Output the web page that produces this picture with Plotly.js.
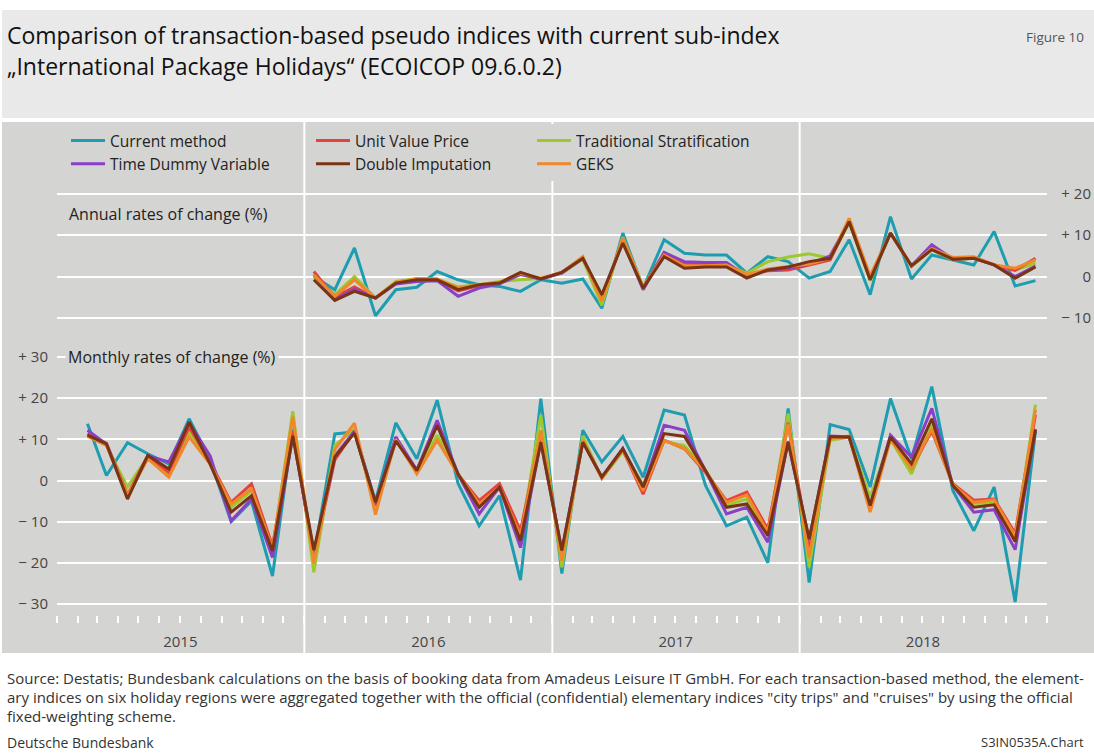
<!DOCTYPE html>
<html>
<head>
<meta charset="utf-8">
<script src="https://cdn.plot.ly/plotly-3.0.1.min.js"></script>
<style>html,body{margin:0;padding:0;background:#fff;}#chart{width:1094px;height:754px;}</style>
</head>
<body>
<div id="chart"></div>
<script>
// ---------- DATA ----------
const years = [2015, 2016, 2017, 2018];
const monthlyStart = [2015, 2]; // first monthly observation: Feb 2015
const annualStart = [2016, 1];  // first annual observation: Jan 2016

const seriesNames = ["Current method", "Unit Value Price", "Traditional Stratification",
                     "Time Dummy Variable", "Double Imputation", "GEKS"];

// Monthly rates of change (%), Feb 2015 - Dec 2018
const mCurrent = [13.8, 1.2, 9.2, 6.5, 4.0, 15.0, 5.0, -10.0, -5.0, -23.2, 12.5,
  -18.5, 11.3, 11.8, -5.0, 14.0, 5.3, 19.5, -0.8, -11.0, -3.7, -24.2, 19.9,
  -22.6, 12.2, 4.5, 10.7, 0.8, 17.1, 15.9, -1.2, -11.0, -8.9, -20.0, 17.5,
  -24.8, 13.6, 12.4, -1.6, 19.9, 5.3, 22.8, -2.4, -12.2, -1.6, -29.5, 12.0];
const mUnitValue = [11.4, 9.0, -3.5, 6.0, 2.0, 13.0, 4.5, -5.3, -0.8, -15.9, 12.0,
  -18.5, 5.0, 12.0, -6.0, 10.0, 2.5, 13.5, 1.5, -4.9, -0.8, -12.2, 11.5,
  -18.0, 9.5, 0.8, 7.5, -3.3, 9.8, 7.7, 2.0, -4.9, -2.8, -11.8, 14.0,
  -17.0, 10.5, 10.5, -6.5, 10.5, 3.0, 12.0, -0.8, -4.8, -4.5, -12.8, 16.0];
const mTradStrat = [11.0, 8.5, -1.6, 5.8, 1.5, 12.0, 4.5, -6.5, -2.5, -17.0, 16.8,
  -22.3, 8.5, 12.5, -6.5, 10.0, 2.0, 11.0, 1.5, -6.0, -1.8, -14.0, 15.9,
  -21.1, 10.8, 0.5, 7.0, -1.0, 9.5, 8.5, 2.4, -6.0, -4.5, -13.0, 16.3,
  -21.1, 9.8, 10.5, -4.0, 10.0, 1.6, 13.5, -1.0, -5.5, -5.5, -14.0, 18.4];
const mTimeDummy = [12.2, 8.8, -4.0, 6.0, 4.5, 14.0, 6.0, -9.8, -4.5, -18.7, 11.0,
  -17.5, 6.0, 12.0, -5.5, 10.6, 2.5, 14.6, 1.5, -8.1, -1.6, -16.3, 9.5,
  -17.0, 9.5, 0.8, 7.8, -1.6, 13.4, 12.2, 2.4, -8.1, -6.5, -15.0, 9.5,
  -14.5, 10.8, 10.6, -6.0, 11.0, 5.7, 17.5, -1.2, -7.7, -7.1, -16.8, 12.5];
const mDoubleImp = [11.0, 8.9, -4.5, 6.1, 2.8, 14.2, 4.0, -7.7, -3.7, -17.1, 10.8,
  -16.9, 5.7, 11.5, -5.3, 9.6, 2.4, 13.4, 1.5, -6.5, -1.6, -14.6, 9.3,
  -17.0, 9.3, 0.8, 7.7, -1.6, 11.4, 10.7, 2.4, -6.5, -5.7, -13.4, 9.3,
  -14.2, 10.6, 10.6, -6.1, 10.6, 4.1, 15.0, -1.2, -6.5, -5.9, -14.8, 12.3];
const mGEKS = [10.7, 8.5, -3.7, 5.3, 0.8, 10.6, 4.0, -5.7, -2.0, -16.5, 15.5,
  -20.1, 7.5, 13.9, -8.3, 10.0, 1.6, 9.8, 1.5, -5.7, -1.6, -13.5, 12.2,
  -19.5, 9.8, 0.5, 7.5, -2.5, 9.8, 7.7, 2.4, -5.3, -3.5, -12.5, 13.8,
  -18.7, 10.3, 10.8, -7.7, 10.0, 3.0, 12.5, -1.0, -5.3, -4.7, -13.5, 17.2];

// Annual rates of change (%), Jan 2016 - Dec 2018
const aCurrent = [0.0, -3.2, 6.9, -9.5, -3.2, -2.6, 1.2, -0.8, -2.0, -2.4, -3.6, -0.8,
  -1.6, -0.6, -7.7, 10.5, -2.8, 8.9, 5.6, 5.2, 5.2, 0.8, 4.8, 3.6,
  -0.4, 1.2, 8.9, -4.4, 14.5, -0.6, 5.2, 4.0, 2.8, 10.9, -2.3, -1.0];
const aUnitValue = [1.2, -5.0, -2.5, -5.2, -1.6, -1.0, -0.8, -3.5, -2.2, -1.6, 0.6, -0.6,
  1.0, 4.6, -5.5, 9.0, -2.8, 5.8, 3.2, 3.0, 3.0, 0.3, 1.4, 1.6,
  2.8, 4.0, 13.5, -0.5, 10.5, 2.6, 7.0, 4.2, 4.6, 2.8, 1.5, 4.4];
const aTradStrat = [0.0, -4.4, 0.0, -5.2, -1.2, -0.5, -0.6, -2.5, -2.0, -1.2, -0.8, -0.5,
  0.8, 4.2, -7.0, 9.5, -2.5, 5.4, 3.0, 2.8, 2.8, 0.8, 3.6, 4.7,
  5.5, 4.4, 13.0, -1.0, 10.5, 2.4, 6.5, 4.0, 4.4, 2.8, 1.5, 3.2];
const aTimeDummy = [0.5, -5.5, -3.1, -5.2, -1.8, -1.2, -1.0, -4.8, -2.8, -1.8, 0.5, -0.6,
  0.8, 4.4, -4.8, 8.5, -3.2, 5.8, 3.6, 3.4, 3.4, 0.0, 1.6, 2.0,
  3.0, 5.0, 13.3, -0.6, 10.5, 2.6, 7.7, 4.2, 4.4, 2.8, 0.0, 2.5];
const aDoubleImp = [-0.8, -5.8, -3.6, -5.2, -1.6, -0.8, -0.8, -3.2, -2.0, -1.6, 1.0, -0.6,
  1.0, 4.4, -4.4, 8.1, -2.8, 4.8, 2.0, 2.3, 2.3, -0.4, 1.6, 2.3,
  3.6, 4.4, 13.3, -0.8, 10.5, 2.6, 6.5, 4.2, 4.4, 2.8, -0.4, 2.3];
const aGEKS = [0.4, -4.8, -0.8, -5.2, -1.4, -0.6, -0.6, -2.8, -2.0, -1.4, 0.8, -0.4,
  1.0, 4.8, -6.0, 9.3, -2.8, 5.2, 2.6, 2.6, 2.8, 0.5, 1.8, 2.3,
  3.0, 4.4, 14.1, 0.2, 10.5, 2.6, 6.8, 4.6, 4.8, 2.8, 2.0, 4.0];

const monthlyTicks = [-30, -20, -10, 0, 10, 20, 30];
const monthlyTickText = ["\u2212 30", "\u2212 20", "\u2212 10", "0", "+ 10", "+ 20", "+ 30"];
const annualTicks = [-10, 0, 10, 20];
const annualTickText = ["\u2212 10", "0", "+ 10", "+ 20"];

// ---------- STYLE ----------
const colors = ["#1e9db1", "#e6413f", "#9cc92c", "#8a3fc8", "#7a3414", "#f0872a"];
const legendOf = ["legend", "legend2", "legend3", "legend", "legend2", "legend3"];
const drawOrder = [0, 2, 1, 3, 5, 4];
const FONT = "Open Sans, sans-serif";
const chartBg = "#d4d4d2";

const W = 1094, H = 754;
const px = v => v / W;
const py = v => 1 - v / H;

function monthDates(start, n) {
  const out = [];
  for (let i = 0; i < n; i++) {
    const t = (start[1] - 1) + i;
    const y = start[0] + Math.floor(t / 12);
    const m = (t % 12) + 1;
    out.push(y + "-" + String(m).padStart(2, "0") + "-15");
  }
  return out;
}

const monthlySeries = [mCurrent, mUnitValue, mTradStrat, mTimeDummy, mDoubleImp, mGEKS];
const annualSeries = [aCurrent, aUnitValue, aTradStrat, aTimeDummy, aDoubleImp, aGEKS];
const mx = monthDates(monthlyStart, mCurrent.length);
const ax = monthDates(annualStart, aCurrent.length);

const traces = [];
drawOrder.forEach(i => {
  traces.push({
    type: "scatter", mode: "lines", name: seriesNames[i],
    x: ax, y: annualSeries[i], xaxis: "x", yaxis: "y2",
    line: {color: colors[i], width: 3}, legend: legendOf[i], showlegend: true,
    hoverinfo: "skip"
  });
});
drawOrder.forEach(i => {
  traces.push({
    type: "scatter", mode: "lines", name: seriesNames[i],
    x: mx, y: monthlySeries[i], xaxis: "x", yaxis: "y",
    line: {color: colors[i], width: 3}, legend: legendOf[i], showlegend: false,
    hoverinfo: "skip"
  });
});

const xStart = years[0] + "-01-01";
const xEnd = (years[years.length - 1] + 1) + "-01-01";
const xDomain = [px(57), px(1047)];

const shapes = [
  {type: "rect", xref: "paper", yref: "paper", x0: px(2), x1: 1, y0: py(118), y1: py(10),
   fillcolor: "#e9e9e9", line: {width: 0}, layer: "below"},
  {type: "rect", xref: "paper", yref: "paper", x0: px(2), x1: 1, y0: py(653), y1: py(122),
   fillcolor: chartBg, line: {width: 0}, layer: "below"}
];
years.slice(1).forEach(y => {
  shapes.push({type: "line", xref: "x", yref: "paper", x0: y + "-01-01", x1: y + "-01-01",
    y0: py(653), y1: py(122), line: {color: "#ffffff", width: 2}, layer: "below"});
});

const ann = (text, x, y, opts) => Object.assign({
  text, x: px(x), y: py(y), xref: "paper", yref: "paper", showarrow: false,
  xanchor: "left", yanchor: "middle", font: {family: FONT, size: 13, color: "#222"}
}, opts || {});

const footFont = {family: FONT, size: 15, color: "#333"};
const annotations = [
  ann("Comparison of transaction-based pseudo indices with current sub-index", 5, 35,
      {font: {family: FONT, size: 23, color: "#111"}}),
  ann("\u201EInternational Package Holidays\u201C (ECOICOP 09.6.0.2)", 5, 66,
      {font: {family: FONT, size: 23, color: "#111"}}),
  ann("Figure 10", 1086, 37, {xanchor: "right", font: {family: FONT, size: 13.5, color: "#555"}}),
  ann("Annual rates of change (%)", 67, 214, {font: {family: FONT, size: 16, color: "#222"}}),
  ann("Monthly rates of change (%)", 65, 357, {bgcolor: chartBg, borderpad: 2,
      font: {family: FONT, size: 16, color: "#222"}}),
  ann("Source: Destatis; Bundesbank calculations on the basis of booking data from Amadeus Leisure IT GmbH. For each transaction-based method, the element-", 5, 678,
      {font: footFont}),
  ann("ary indices on six holiday regions were aggregated together with the official (confidential) elementary indices \"city trips\" and \"cruises\" by using the official", 5, 697,
      {font: footFont}),
  ann("fixed-weighting scheme.", 5, 716, {font: footFont}),
  ann("Deutsche Bundesbank", 5, 742, {font: {family: FONT, size: 14, color: "#333"}}),
  ann("S3IN0535A.Chart", 1086, 742, {xanchor: "right", font: {family: FONT, size: 13, color: "#333"}})
];

const legendCommon = {
  bgcolor: chartBg, borderwidth: 0, orientation: "v", xanchor: "left", yanchor: "top",
  y: py(124), font: {family: FONT, size: 15.5, color: "#222"}, tracegroupgap: 0, itemwidth: 34
};

const tickAxisCommon = {
  type: "date", overlaying: "x", anchor: "y", range: [xStart, xEnd],
  tickmode: "linear", tick0: xStart, ticks: "outside", tickcolor: "#ffffff", tickwidth: 2,
  showticklabels: false, showgrid: false, zeroline: false, showline: false
};

const axisFont = {family: FONT, size: 15, color: "#444"};
const layout = {
  width: W, height: H,
  margin: {l: 0, r: 0, t: 0, b: 0},
  paper_bgcolor: "#ffffff", plot_bgcolor: "rgba(0,0,0,0)",
  showlegend: true,
  font: {family: FONT, color: "#444"},
  xaxis: {
    type: "date", domain: xDomain, anchor: "y", range: [xStart, xEnd],
    tickmode: "array", tickvals: years.map(y => y + "-07-02"), ticktext: years.map(String),
    ticks: "", showgrid: false, zeroline: false, showline: false,
    tickfont: axisFont, ticklabelstandoff: 16,
    minor: {tickmode: "linear", tick0: xStart, dtick: "M1", ticks: "outside", ticklen: 7,
            tickwidth: 2, tickcolor: "#ffffff", showgrid: false}
  },
  xaxis2: Object.assign({}, tickAxisCommon, {dtick: "M3", ticklen: 13}),
  xaxis3: Object.assign({}, tickAxisCommon, {dtick: "M12", ticklen: 34}),
  yaxis: {
    domain: [py(615), py(350)], range: [(480.5 - 615) / 4.117, (480.5 - 350) / 4.117],
    anchor: "x", tickmode: "array", tickvals: monthlyTicks, ticktext: monthlyTickText,
    showgrid: true, gridcolor: "#ffffff", gridwidth: 2, zeroline: false, showline: false,
    ticks: "", tickfont: axisFont, ticklabelstandoff: 8
  },
  yaxis2: {
    domain: [py(330), py(180)], range: [(276.5 - 330) / 4.13, (276.5 - 180) / 4.13],
    anchor: "free", position: px(1091), side: "left",
    tickmode: "array", tickvals: annualTicks, ticktext: annualTickText,
    showgrid: true, gridcolor: "#ffffff", gridwidth: 2, zeroline: false, showline: false,
    ticks: "", tickfont: axisFont
  },
  legend: Object.assign({}, legendCommon, {x: px(66)}),
  legend2: Object.assign({}, legendCommon, {x: px(311)}),
  legend3: Object.assign({}, legendCommon, {x: px(532)}),
  shapes, annotations
};

Plotly.newPlot("chart", traces, layout, {staticPlot: true, displayModeBar: false});
</script>
</body>
</html>
